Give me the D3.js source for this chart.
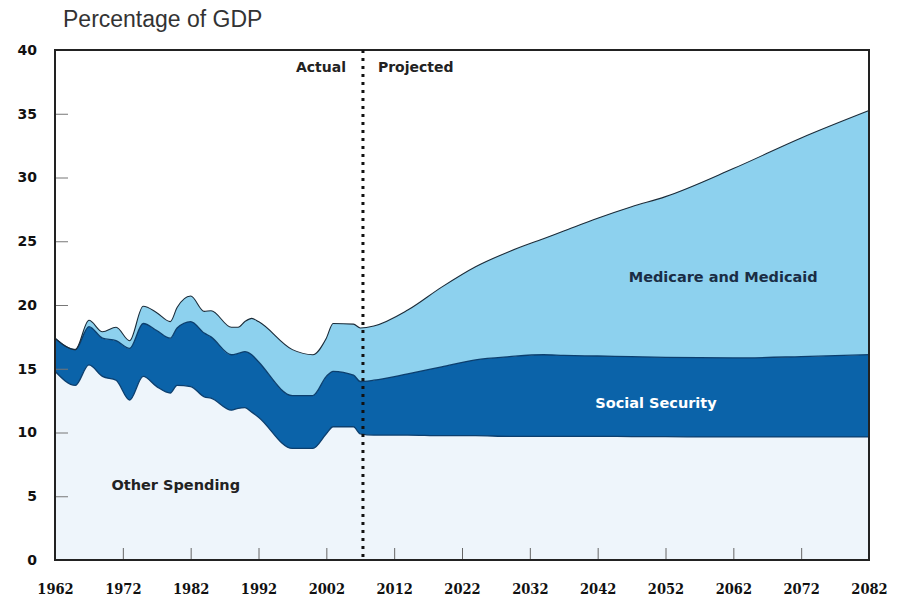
<!DOCTYPE html>
<html>
<head>
<meta charset="utf-8">
<script src="https://cdn.jsdelivr.net/npm/d3@7"></script>
<style>
  body { margin: 0; background: #fff; }
  text { font-family: "DejaVu Sans", sans-serif; }
</style>
</head>
<body>
<div id="plot"></div>
<script>
// data (percent of GDP)
var years = [1962, 1965, 1967, 1969, 1971, 1973, 1975, 1977, 1979, 1980, 1982, 1984, 1985,
  1988, 1989, 1990, 1991, 1992, 1997, 2000, 2002, 2003, 2006, 2007,
  2009, 2014, 2019, 2024, 2029, 2034, 2037, 2042, 2047, 2052, 2062, 2072, 2082];

var otherSpending = [14.8, 13.7, 15.3, 14.4, 14.1, 12.55, 14.4, 13.6, 13.1, 13.7, 13.6, 12.8, 12.7,
  11.75, 11.9, 11.95, 11.6, 11.2, 8.75, 8.75, 9.9, 10.45, 10.45, 9.9,
  9.8, 9.8, 9.75, 9.75, 9.7, 9.7, 9.7, 9.7, 9.68, 9.67, 9.65, 9.65, 9.65];

var socialSecurity = [2.6, 2.8, 3.0, 3.0, 3.1, 4.05, 4.15, 4.4, 4.3, 4.5, 5.1, 5.0, 4.8,
  4.35, 4.3, 4.4, 4.5, 4.35, 4.15, 4.15, 4.5, 4.35, 4.05, 4.1,
  4.3, 4.8, 5.4, 5.95, 6.25, 6.4, 6.35, 6.3, 6.27, 6.23, 6.2, 6.3, 6.45];

var medicareMedicaid = [0, 0, 0.5, 0.5, 1.05, 0.6, 1.35, 1.4, 1.3, 1.6, 2.0, 1.7, 2.05,
  2.15, 2.05, 2.35, 2.85, 3.15, 3.6, 3.2, 3.0, 3.75, 4.0, 4.2,
  4.25, 5.0, 6.25, 7.3, 8.25, 9.1, 9.75, 10.8, 11.75, 12.6, 14.85, 17.15, 19.15];

var seriesKeys = ["other", "social", "medicare"];
var seriesColors = { other: "#eef5fb", social: "#0b63a9", medicare: "#8dd1ee" };
var seriesLabels = ["Other Spending", "Social Security", "Medicare and Medicaid"];

var xTicks = [1962, 1972, 1982, 1992, 2002, 2012, 2022, 2032, 2042, 2052, 2062, 2072, 2082];
var yTicks = [0, 5, 10, 15, 20, 25, 30, 35, 40];
var projectionStart = 2007.4;

var svgWidth = 902;
var svgHeight = 597;
var margin = { top: 50, right: 33, bottom: 37, left: 55 };
var width = svgWidth - margin.left - margin.right;
var height = svgHeight - margin.top - margin.bottom;

var rows = years.map((y, i) => ({
  year: y,
  other: otherSpending[i],
  social: socialSecurity[i],
  medicare: medicareMedicaid[i]
}));

var svg = d3.select("#plot")
  .append("svg")
  .attr("width", svgWidth)
  .attr("height", svgHeight);

var chartGroup = svg.append("g")
  .attr("transform", `translate(${margin.left}, ${margin.top})`);

var xScale = d3.scaleLinear()
  .domain([1962, 2082])
  .range([0, width]);

var yScale = d3.scaleLinear()
  .domain([0, 40])
  .range([height, 0]);

var stacked = d3.stack().keys(seriesKeys)(rows);

var area = d3.area()
  .x(d => xScale(d.data.year))
  .y0(d => yScale(d[0]))
  .y1(d => yScale(d[1]))
  .curve(d3.curveMonotoneX);

var topLine = d3.line()
  .x(d => xScale(d.data.year))
  .y(d => yScale(d[1]))
  .curve(d3.curveMonotoneX);

// areas
chartGroup.selectAll(".layer")
  .data(stacked)
  .enter()
  .append("path")
  .attr("class", "layer")
  .attr("fill", d => seriesColors[d.key])
  .attr("d", area);

// boundary lines
chartGroup.selectAll(".edge")
  .data(stacked)
  .enter()
  .append("path")
  .attr("class", "edge")
  .attr("fill", "none")
  .attr("stroke", (d, i) => i == 2 ? "#1b2b38" : "#0c3f6e")
  .attr("stroke-width", (d, i) => i == 2 ? 1.1 : 1.3)
  .attr("d", topLine);

// axes with inward ticks
var bottomAxis = d3.axisBottom(xScale)
  .tickValues(xTicks)
  .tickFormat(d3.format("d"))
  .tickSizeInner(-12)
  .tickSizeOuter(0);

var leftAxis = d3.axisLeft(yScale)
  .tickValues(yTicks)
  .tickSizeInner(-13)
  .tickSizeOuter(0);

var xAxisG = chartGroup.append("g")
  .attr("transform", `translate(0, ${height})`)
  .call(bottomAxis);
xAxisG.select(".domain").remove();
xAxisG.selectAll(".tick line").attr("stroke", "#666");
xAxisG.selectAll(".tick text")
  .attr("y", 34)
  .attr("dy", null)
  .attr("fill", "#111")
  .style("font-family", "'DejaVu Serif Condensed', 'DejaVu Serif', serif")
  .style("font-size", "14.5px")
  .style("font-weight", "bold");

var yAxisG = chartGroup.append("g")
  .call(leftAxis);
yAxisG.select(".domain").remove();
yAxisG.selectAll(".tick line").attr("stroke", "#777");
yAxisG.selectAll(".tick text")
  .attr("x", -18)
  .attr("fill", "#111")
  .style("font-size", "14px")
  .style("font-weight", "bold");

// frame
chartGroup.append("rect")
  .attr("width", width)
  .attr("height", height)
  .attr("fill", "none")
  .attr("stroke", "#222")
  .attr("stroke-width", 2);

// actual / projected divider
chartGroup.append("line")
  .attr("x1", xScale(projectionStart))
  .attr("x2", xScale(projectionStart))
  .attr("y1", yScale(40))
  .attr("y2", yScale(0))
  .attr("stroke", "#111")
  .attr("stroke-width", 3)
  .attr("stroke-dasharray", "3,5");

chartGroup.append("text")
  .attr("x", xScale(projectionStart) - 17)
  .attr("y", 22)
  .attr("text-anchor", "end")
  .attr("fill", "#222")
  .style("font-size", "14px")
  .style("font-weight", "bold")
  .text("Actual");

chartGroup.append("text")
  .attr("x", xScale(projectionStart) + 15)
  .attr("y", 22)
  .attr("fill", "#222")
  .style("font-size", "14px")
  .style("font-weight", "bold")
  .text("Projected");

// series labels
var labelPos = [
  { x: 1979.8, y: 5.5, color: "#222" },
  { x: 2050.6, y: 11.9, color: "#fff" },
  { x: 2060.5, y: 21.8, color: "#1a2d45" }
];
chartGroup.selectAll(".slabel")
  .data(seriesLabels)
  .enter()
  .append("text")
  .attr("class", "slabel")
  .attr("x", (d, i) => xScale(labelPos[i].x))
  .attr("y", (d, i) => yScale(labelPos[i].y))
  .attr("text-anchor", "middle")
  .attr("fill", (d, i) => labelPos[i].color)
  .style("font-size", "14.5px")
  .style("font-weight", "bold")
  .text(d => d);

// title
svg.append("text")
  .attr("x", 63)
  .attr("y", 27)
  .attr("fill", "#333")
  .style("font-family", "'Liberation Sans', Arial, sans-serif")
  .style("font-size", "23px")
  .text("Percentage of GDP");
</script>
</body>
</html>
